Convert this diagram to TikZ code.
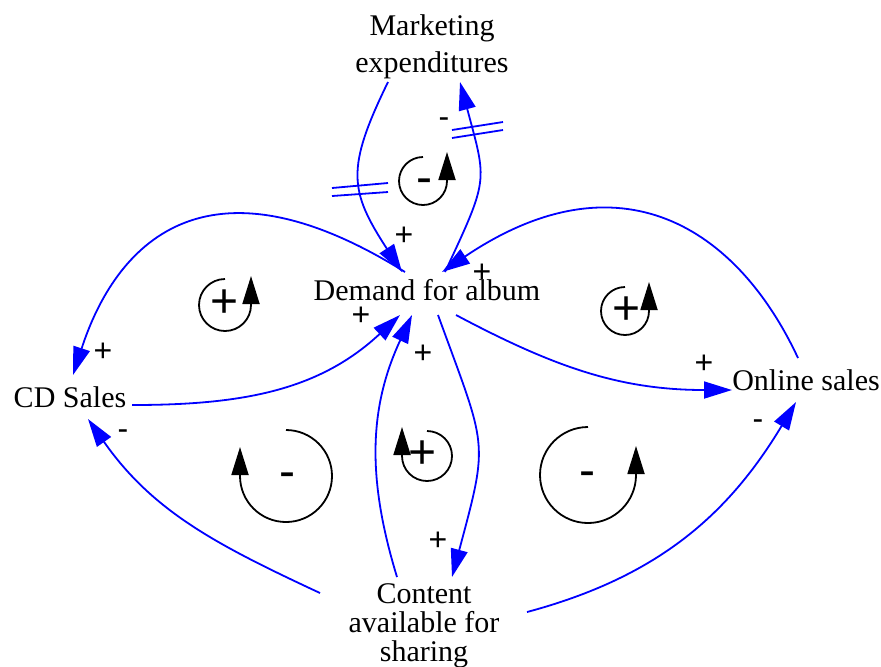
\documentclass[tikz,border=0pt]{standalone}
\usepackage{fontspec}
\setmainfont{Liberation Serif}
\newfontfamily\varfont{Liberation Serif}
\newfontfamily\loopfont{Liberation Sans}
\usetikzlibrary{arrows.meta, calc}

\begin{document}
\begin{tikzpicture}[
        x=0.5pt, y=0.5pt,
        var/.style={font=\varfont\fontsize{15}{18.5}\selectfont, align=center, inner sep=0pt},
        link/.style={draw=blue, line width=0.9pt, -{Triangle[length=14pt, width=8.5pt]}},
        delay/.style={draw=blue, line width=0.9pt},
        polarity/.style={font=\loopfont\fontsize{16}{18}\selectfont, inner sep=0pt, text height=0.7em, text depth=0pt},
        fbloop/.style={draw=black, line width=0.9pt, -{Triangle[length=14pt, width=8.5pt]}},
        loopsign/.style={font=\loopfont\fontsize{24}{28}\selectfont, inner sep=0pt, text height=0.7em, text depth=0pt}
        ]
        \useasboundingbox (0,0) rectangle (881,-666);

        % variables
        \node[var] (mkt) at (432,-46.5) {Marketing\\expenditures};
        \node[var] (dem) at (427,-290) {Demand for album};
        \node[var] (cd) at (70,-397) {CD Sales};
        \node[var] (onl) at (806,-380) {Online sales};
        \node[var, font=\varfont\fontsize{15}{14.5}\selectfont] (cnt) at (424,-626) {Content\\available for\\sharing};

        % links
        \draw[link] ($(mkt)+(-44,-35.5)$) to[out=244, in=123, looseness=1.3] ($(dem)+(-25,18)$);
        \draw[link] ($(dem)+(18,18)$) to[out=65, in=285, looseness=1.4] ($(mkt)+(28,-35.5)$);
        \draw[link] ($(dem)+(-22,18)$) to[out=148, in=72, out looseness=1.75, in looseness=1.0] ($(cd)+(3,22)$);
        \draw[link] ($(cd)+(62,-8)$) to[out=0, in=223] ($(dem)+(-27,-25)$);
        \draw[link] ($(onl)+(-8,22)$) to[out=115, in=34, out looseness=1.0, in looseness=1.5] ($(dem)+(15,18)$);
        \draw[link] ($(dem)+(29,-25)$) to[out=-28, in=180] ($(onl)+(-74,-10)$);
        \draw[link] ($(cnt)+(-104,33)$) to[out=155, in=305] ($(cd)+(18,-22)$);
        \draw[link] ($(cnt)+(103,14)$) to[out=15, in=239] ($(onl)+(-10,-22)$);
        \draw[link] ($(cnt)+(-27,49)$) to[out=107, in=245] ($(dem)+(-15,-25)$);
        \draw[link] ($(dem)+(11,-25)$) to[out=290, in=75, looseness=1.4] ($(cnt)+(28,49)$);

        % delays
        \coordinate (dlyL) at (360,-190);
        \coordinate (dlyR) at (477,-130);
        \draw[delay] ([shift={(-28,2)}]dlyL) -- ([shift={(28,7)}]dlyL);
        \draw[delay] ([shift={(-28,-6)}]dlyL) -- ([shift={(28,-2)}]dlyL);
        \draw[delay] ([shift={(-25,0)}]dlyR) -- ([shift={(26,8)}]dlyR);
        \draw[delay] ([shift={(-25,-8)}]dlyR) -- ([shift={(26,0)}]dlyR);

        % link polarities
        \node[polarity] (p1) at (404,-238) {+};
        \node[polarity] (p2) at (444,-120) {-};
        \node[polarity] (p3) at (103,-354) {+};
        \node[polarity] (p4) at (361,-318) {+};
        \node[polarity] (p5) at (482,-275) {+};
        \node[polarity] (p6) at (704,-366) {+};
        \node[polarity] (p7) at (123,-432) {-};
        \node[polarity] (p8) at (758,-422) {-};
        \node[polarity] (p9) at (423,-356) {+};
        \node[polarity] (p10) at (438,-543) {+};

        % loop markers
        \coordinate (lpA) at (423,-181);
        \coordinate (lpB) at (225,-305);
        \coordinate (lpC) at (625,-311);
        \coordinate (lpD) at (286,-476);
        \coordinate (lpE) at (427,-456);
        \coordinate (lpF) at (588,-475);
        \draw[fbloop] (lpA) ++(0,24) arc[start angle=90, end angle=360, radius=24] -- ++(0,29);
        \draw[fbloop] (lpB) ++(0,26) arc[start angle=90, end angle=360, radius=26] -- ++(0,29);
        \draw[fbloop] (lpC) ++(0,24) arc[start angle=90, end angle=360, radius=24] -- ++(0,29);
        \draw[fbloop] (lpD) ++(0,46) arc[start angle=90, end angle=-180, radius=46] -- ++(0,29);
        \draw[fbloop] (lpE) ++(0,25) arc[start angle=90, end angle=-180, radius=25] -- ++(0,29);
        \draw[fbloop] (lpF) ++(0,48) arc[start angle=90, end angle=360, radius=48] -- ++(0,29);
        \node[loopsign] (sgA) at ($(lpA)+(1,-5)$) {-};
        \node[loopsign] (sgB) at ($(lpB)+(0,-5)$) {+};
        \node[loopsign] (sgC) at ($(lpC)+(2,-6)$) {+};
        \node[loopsign] (sgD) at ($(lpD)+(1,-4)$) {-};
        \node[loopsign] (sgE) at ($(lpE)+(-4,-5)$) {+};
        \node[loopsign] (sgF) at ($(lpF)+(-1,-4)$) {-};
    \end{tikzpicture}
\end{document}
